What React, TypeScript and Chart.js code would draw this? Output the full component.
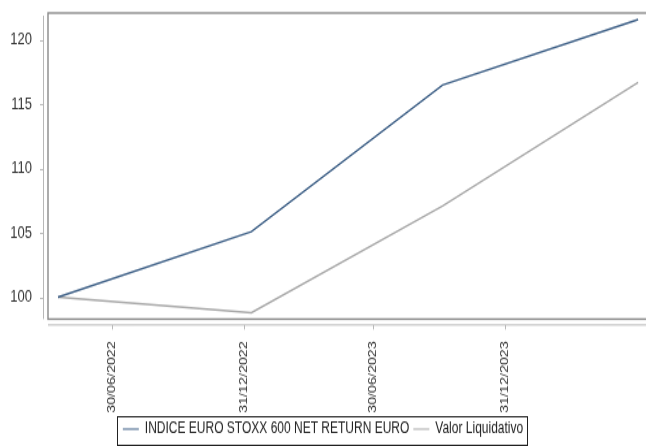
import { useEffect, useRef } from "react";
import { Chart, registerables } from "chart.js";

Chart.register(...registerables);

// ---- data ----
const seriesNames = ["INDICE EURO STOXX 600 NET RETURN EURO", "Valor Liquidativo"];
const pointDates = ["2022-04-16", "2023-01-11", "2023-10-05", "2024-07-04"];
const indexValues = [100, 105.1, 116.5, 121.6];
const fundValues = [100, 98.8, 107.1, 116.7];
const xTickDates = ["2022-06-30", "2022-12-31", "2023-06-30", "2023-12-31"];
const yTickValues = [100, 105, 110, 115, 120];
const xRange = ["2022-04-02", "2024-07-15"];
const yRange = [98.3, 122.1];

const seriesColors = ["#3d5f86", "#a8a8a8"];
const FONT = "'Liberation Sans', Arial, Helvetica, sans-serif";

const ts = (d: string) => Date.parse(d + "T00:00:00Z");
const fmt = (v: number) => {
  const d = new Date(v);
  const dd = String(d.getUTCDate()).padStart(2, "0");
  const mm = String(d.getUTCMonth() + 1).padStart(2, "0");
  return `${dd}/${mm}/${d.getUTCFullYear()}`;
};

const zeroPad = (s: any) => {
  s.paddingTop = 0;
  s.paddingBottom = 0;
  s.paddingLeft = 0;
  s.paddingRight = 0;
};

const framePlugin = {
  id: "frame",
  beforeDatasetsDraw(chart: any) {
    const { ctx, chartArea } = chart;
    const { left, right, top, bottom } = chartArea;
    const ys = chart.scales.y;
    const xs = chart.scales.x;
    ctx.save();
    ctx.strokeStyle = "#b8b8b8";
    ctx.lineWidth = 1;
    ctx.beginPath();
    ctx.moveTo(left - 4.5, top + 2);
    ctx.lineTo(left - 4.5, bottom);
    ctx.stroke();
    yTickValues.forEach((v) => {
      const y = Math.round(ys.getPixelForValue(v)) + 0.5;
      ctx.beginPath();
      ctx.moveTo(left - 8, y);
      ctx.lineTo(left - 4.5, y);
      ctx.stroke();
    });
    ctx.beginPath();
    ctx.moveTo(left, bottom + 4.5);
    ctx.lineTo(right, bottom + 4.5);
    ctx.stroke();
    xTickDates.forEach((d) => {
      const x = Math.round(xs.getPixelForValue(ts(d))) + 0.5;
      ctx.beginPath();
      ctx.moveTo(x, bottom + 4.5);
      ctx.lineTo(x, bottom + 8);
      ctx.stroke();
    });
    ctx.strokeStyle = "#8a8a8a";
    ctx.lineWidth = 1.4;
    ctx.strokeRect(left, top, right - left + 2, bottom - top);
    ctx.restore();
  },
  afterDraw(chart: any) {
    const lg = chart.legend;
    if (!lg || !lg.legendHitBoxes || !lg.legendHitBoxes.length) return;
    const boxes = lg.legendHitBoxes;
    const l = Math.round(boxes[0].left - 6) + 0.5;
    const r = Math.round(boxes[boxes.length - 1].left + boxes[boxes.length - 1].width + 4) + 0.5;
    const t = Math.round(lg.top) + 0.5;
    const b = Math.min(Math.round(lg.top + lg.height) - 1, chart.height - 1) + 0.5;
    const { ctx } = chart;
    ctx.save();
    ctx.strokeStyle = "#222";
    ctx.lineWidth = 1;
    ctx.strokeRect(l, t, r - l, b - t);
    ctx.restore();
  },
};

export default function App() {
  const ref = useRef<HTMLCanvasElement | null>(null);
  useEffect(() => {
    if (!ref.current) return;
    const chart = new Chart(ref.current, {
      type: "line",
      data: {
        datasets: [
          {
            label: seriesNames[0],
            data: pointDates.map((d, i) => ({ x: ts(d), y: indexValues[i] })),
            borderColor: seriesColors[0],
            backgroundColor: seriesColors[0],
            borderWidth: 1.5,
            pointRadius: 0,
            tension: 0,
          },
          {
            label: seriesNames[1],
            data: pointDates.map((d, i) => ({ x: ts(d), y: fundValues[i] })),
            borderColor: seriesColors[1],
            backgroundColor: seriesColors[1],
            borderWidth: 1.5,
            pointRadius: 0,
            tension: 0,
          },
        ],
      },
      options: {
        responsive: false,
        animation: false,
        layout: { padding: { top: 10, right: 0, bottom: -3, left: 0 } },
        plugins: {
          tooltip: { enabled: false },
          legend: {
            position: "bottom",
            labels: {
              usePointStyle: true,
              pointStyle: "line",
              pointStyleWidth: 16,
              boxHeight: 12,
              padding: 4,
              color: "#222",
              font: { family: FONT, size: 12 },
              generateLabels: (c: any) =>
                Chart.defaults.plugins.legend.labels.generateLabels(c).map((it: any) => ({ ...it, lineWidth: 1 })),
            },
          },
        },
        scales: {
          x: {
            type: "linear",
            min: ts(xRange[0]),
            max: ts(xRange[1]),
            grid: { display: false, drawTicks: false },
            border: { display: false },
            afterBuildTicks: (s: any) => {
              s.ticks = xTickDates.map((d) => ({ value: ts(d) }));
            },
            afterFit: (s: any) => {
              s.height = 74.6;
              zeroPad(s);
            },
            ticks: {
              autoSkip: false,
              minRotation: 90,
              maxRotation: 90,
              padding: 17,
              color: "#333",
              font: { family: FONT, size: 11 },
              callback: (v: any) => fmt(Number(v)),
            },
          },
          y: {
            type: "linear",
            min: yRange[0],
            max: yRange[1],
            grid: { display: false, drawTicks: false },
            border: { display: false },
            afterBuildTicks: (s: any) => {
              s.ticks = yTickValues.map((v) => ({ value: v }));
            },
            afterFit: (s: any) => {
              s.width = 48;
              zeroPad(s);
            },
            ticks: {
              padding: 16,
              color: "#333",
              font: { family: FONT, size: 13 },
              callback: (v: any) => String(v),
            },
          },
        },
      },
      plugins: [framePlugin],
    });
    return () => chart.destroy();
  }, []);
  return (
    <div style={{ position: "absolute", left: 0, top: 0, width: 646, height: 446, background: "#fff" }}>
      <canvas ref={ref} width={646} height={343} style={{ width: "646px", height: "446px", display: "block" }} />
    </div>
  );
}
